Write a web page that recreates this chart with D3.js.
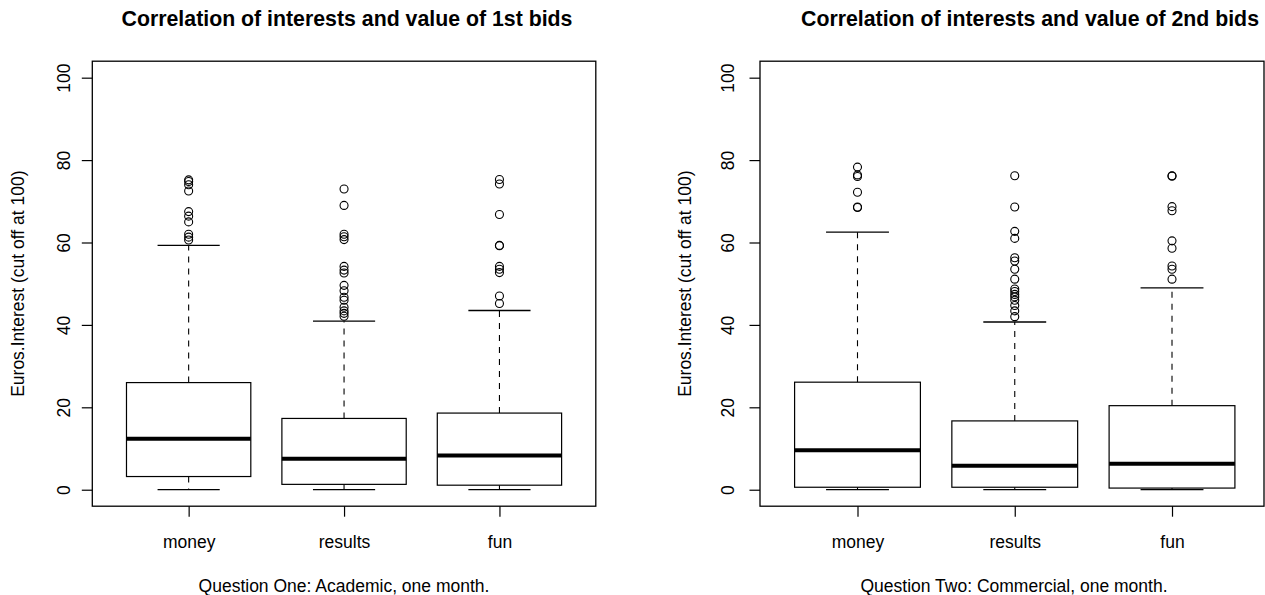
<!DOCTYPE html>
<html>
<head>
<meta charset="utf-8">
<script src="https://cdn.jsdelivr.net/npm/d3@7"></script>
<style>
  body { margin: 0; background: #fff; }
  text { font-family: "Liberation Sans", Arial, Helvetica, sans-serif; fill: #000; }
</style>
</head>
<body>
<svg width="1265" height="595"></svg>
<script>
// categories and labels
var categories = ["money", "results", "fun"];
var yTicks = [0, 20, 40, 60, 80, 100];
var titles = ["Correlation of interests and value of 1st bids",
              "Correlation of interests and value of 2nd bids"];
var xLabels = ["Question One: Academic, one month.",
               "Question Two: Commercial, one month."];
var yLabel = "Euros.Interest (cut off at 100)";

// box stats per category: lower whisker, Q1, median, Q3, upper whisker
var firstBidStats = [
  [0, 3.2, 12.4, 26.0, 59.3],
  [0, 1.3, 7.5, 17.3, 40.9],
  [0, 1.1, 8.3, 18.6, 43.5]
];
var firstBidOutliers = [
  [75.2, 74.8, 74, 72.5, 67.5, 66.4, 65, 62, 61.3, 60.6],
  [73, 69, 62, 61.4, 60.7, 54.2, 53.3, 52.6, 49.6, 48.3, 46.7, 46, 44.3, 43.4, 42.8, 42.1],
  [75.3, 74.2, 66.8, 59.3, 59.2, 54.2, 53.5, 52.7, 47, 45.2]
];
var secondBidStats = [
  [0, 0.6, 9.6, 26.1, 62.5],
  [0, 0.6, 5.8, 16.7, 40.7],
  [0, 0.4, 6.3, 20.4, 49.0]
];
var secondBidOutliers = [
  [78.3, 76.4, 76.0, 72.2, 68.6, 68.5],
  [76.2, 68.6, 62.7, 61, 56.3, 55.5, 53.5, 51.1, 48.7, 48.1, 47.4, 46.8, 46, 44.7, 43.4, 42],
  [76.2, 76.1, 68.7, 67.7, 60.4, 58.6, 54.3, 53.5, 51.1]
];

var svg = d3.select("svg");
var fontSize = 17.5;

// shared y scale (R pads the 0..100 range by 4%)
var y = d3.scaleLinear().domain([-4, 104]).range([506.2, 61.2]);

var panels = [
  { left: 92.3, right: 595.8, xMax: 3.62, stats: firstBidStats, outliers: firstBidOutliers,
    title: titles[0], xlab: xLabels[0], titleX: 347, xlabX: 344, tickOff: 28, labOff: 74 },
  { left: 760, right: 1264, xMax: 3.585, stats: secondBidStats, outliers: secondBidOutliers,
    title: titles[1], xlab: xLabels[1], titleX: 1030, xlabX: 1014, tickOff: 32, labOff: 75 }
];

panels.forEach(function(p) {
  var x = d3.scaleLinear().domain([0.38, p.xMax]).range([p.left, p.right]);
  var unit = x(2) - x(1);
  var g = svg.append("g");

  // boxes
  categories.forEach(function(c, i) {
    var s = p.stats[i];
    var cx = x(i + 1);
    var bw = unit * 0.8, cw = unit * 0.4;

    // whiskers
    g.append("line")
      .attr("x1", cx).attr("x2", cx)
      .attr("y1", y(s[3])).attr("y2", y(s[4]))
      .attr("stroke", "#000").attr("stroke-width", 1.1)
      .attr("stroke-dasharray", "6,6");
    g.append("line")
      .attr("x1", cx).attr("x2", cx)
      .attr("y1", y(s[1])).attr("y2", y(s[0]))
      .attr("stroke", "#000").attr("stroke-width", 1.1)
      .attr("stroke-dasharray", "6,6");
    // caps
    [s[0], s[4]].forEach(function(v) {
      g.append("line")
        .attr("x1", cx - cw / 2).attr("x2", cx + cw / 2)
        .attr("y1", y(v)).attr("y2", y(v))
        .attr("stroke", "#000").attr("stroke-width", 1.3);
    });
    // box
    g.append("rect")
      .attr("x", cx - bw / 2).attr("width", bw)
      .attr("y", y(s[3])).attr("height", y(s[1]) - y(s[3]))
      .attr("fill", "#fff").attr("stroke", "#000").attr("stroke-width", 1.2);
    // median
    g.append("line")
      .attr("x1", cx - bw / 2).attr("x2", cx + bw / 2)
      .attr("y1", y(s[2])).attr("y2", y(s[2]))
      .attr("stroke", "#000").attr("stroke-width", 4);

    // outliers
    g.selectAll(null)
      .data(p.outliers[i])
      .enter().append("circle")
      .attr("cx", cx)
      .attr("cy", function(d) { return y(d); })
      .attr("r", 4)
      .attr("fill", "none")
      .attr("stroke", "#000")
      .attr("stroke-width", 1.1);
  });

  // frame
  g.append("rect")
    .attr("x", p.left).attr("y", y(104))
    .attr("width", p.right - p.left).attr("height", y(-4) - y(104))
    .attr("fill", "none").attr("stroke", "#000").attr("stroke-width", 1.3);

  // y axis
  var yAxis = g.append("g")
    .attr("transform", "translate(" + p.left + ",0)")
    .call(d3.axisLeft(y).tickValues(yTicks).tickSize(10.5));
  yAxis.select(".domain").remove();
  yAxis.attr("font-size", null).attr("font-family", null);
  yAxis.selectAll("line").attr("stroke", "#000").attr("stroke-width", 1.2);
  yAxis.selectAll("text")
    .attr("x", null).attr("dy", "0.35em")
    .attr("transform", "translate(" + (-p.tickOff) + ",0) rotate(-90)")
    .attr("text-anchor", "middle")
    .style("font-size", fontSize + "px");

  // x axis
  var xAxis = g.append("g")
    .attr("transform", "translate(0," + y(-4) + ")")
    .call(d3.axisBottom(x).tickValues([1, 2, 3])
      .tickFormat(function(d) { return categories[d - 1]; })
      .tickSize(10.5));
  xAxis.select(".domain").remove();
  xAxis.attr("font-size", null).attr("font-family", null);
  xAxis.selectAll("line").attr("stroke", "#000").attr("stroke-width", 1.2);
  xAxis.selectAll("text")
    .attr("y", 42).attr("dy", null)
    .style("font-size", fontSize + "px");

  // titles and axis labels
  svg.append("text")
    .attr("x", p.titleX).attr("y", 25.7)
    .attr("text-anchor", "middle")
    .style("font-size", "21.3px").style("font-weight", "bold")
    .text(p.title);

  svg.append("text")
    .attr("x", p.xlabX).attr("y", 592)
    .attr("text-anchor", "middle")
    .style("font-size", fontSize + "px")
    .text(p.xlab);

  svg.append("text")
    .attr("transform", "translate(" + (p.left - p.labOff) + "," + ((y(-4) + y(104)) / 2) + ") rotate(-90)")
    .attr("dy", "0.35em")
    .attr("text-anchor", "middle")
    .style("font-size", fontSize + "px")
    .text(yLabel);
});
</script>
</body>
</html>
